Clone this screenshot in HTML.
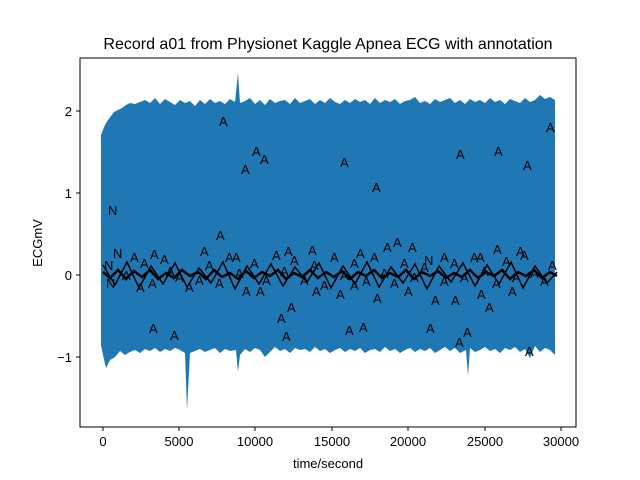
<!DOCTYPE html>
<html><head><style>
html,body{margin:0;padding:0;background:#fff;}
svg{display:block;font-family:"Liberation Sans",sans-serif;}
</style></head><body>
<svg width="640" height="480" xmlns="http://www.w3.org/2000/svg">
<rect width="640" height="480" fill="#fff"/>
<!-- blue band -->
<polygon fill="#1f77b4" points="101,135 103,130 105,125 108,120 111,116 114,112 118,110 122,108 126,105 130,103 135,104 140,102 145,100 150,103 155,98 160,104 165,99 170,102 175,105 180,100 185,103 190,101 195,106 200,100 205,104 210,99 215,103 220,101 225,104 230,99 235,102 238,73 240,103 245,101 250,98 255,104 260,100 265,105 270,99 275,103 280,101 285,100 290,104 295,98 300,103 305,101 310,99 315,104 320,100 325,103 330,98 335,102 340,104 345,100 350,103 355,99 360,102 365,100 370,104 375,98 380,103 385,100 390,102 395,99 400,104 405,101 410,100 415,97 420,103 425,101 430,104 435,99 440,102 445,100 450,98 455,103 460,100 465,104 470,99 475,102 480,100 485,103 490,98 495,102 500,100 505,104 510,99 515,101 520,103 525,98 530,102 535,100 540,95 545,99 550,97 555,100 555,355 550,350 545,348 540,352 535,346 530,358 525,349 520,352 515,347 510,350 505,348 500,353 495,349 490,351 485,347 480,350 475,352 470,348 468,376 466,350 460,353 455,348 450,351 445,347 440,350 435,353 430,348 425,351 420,349 415,352 410,348 405,350 400,353 395,349 390,351 385,347 380,352 375,349 370,350 365,353 360,348 355,351 350,349 345,352 340,348 335,350 330,353 325,349 320,351 315,347 310,352 305,349 300,350 295,348 290,353 285,349 280,351 275,347 270,352 265,357 260,350 255,348 250,352 245,349 240,355 238,372 236,350 230,351 225,349 220,353 215,348 210,350 205,352 200,349 195,351 190,353 187,410 185,353 180,350 175,348 170,351 165,349 160,352 155,348 150,351 145,349 140,353 135,350 130,352 125,355 120,351 115,357 110,360 106,368 103,355 101,345"/>
<!-- black annotation baseline -->
<polyline fill="none" stroke="#000" stroke-width="2.5" points="103,272 110,278 118,270 126,279 134,271 142,277 150,270 158,279 166,273 174,278 182,270 190,276 198,272 206,279 214,270 222,277 230,273 238,279 246,271 254,278 262,272 270,276 278,270 286,279 294,273 302,277 310,270 318,278 326,272 334,277 342,271 350,279 358,272 366,276 374,270 382,278 390,273 398,277 406,270 414,279 422,272 430,276 438,271 446,278 454,273 462,277 470,270 478,278 486,272 494,276 502,270 510,279 518,272 526,276 534,270 542,278 550,272 557,276"/>
<polyline fill="none" stroke="#000" stroke-width="1.5" points="103,265 115,285 127,262 139,288 151,266 163,284 175,263 187,287 199,268 211,283 223,262 235,289 247,266 259,284 271,264 283,286 295,267 307,282 319,263 331,288 343,266 355,284 367,262 379,287 391,267 403,283 415,264 427,289 439,266 451,282 463,263 475,286 487,265 499,284 511,262 523,288 535,266 547,283 557,272"/>
<g font-size="13" fill="#000">
<text x="108" y="215">N</text><text x="104" y="270">N</text><text x="106" y="288">N</text><text x="113" y="258">N</text>
<text x="219" y="126">A</text><text x="252" y="156">A</text><text x="260" y="164">A</text><text x="241" y="174">A</text><text x="340" y="167">A</text><text x="372" y="192">A</text><text x="456" y="159">A</text><text x="494" y="156">A</text><text x="523" y="170">A</text><text x="546" y="132">A</text>
<text x="216" y="240">A</text><text x="149" y="333">A</text><text x="170" y="340">A</text><text x="277" y="323">A</text><text x="287" y="312">A</text><text x="282" y="341">A</text><text x="345" y="335">A</text><text x="359" y="332">A</text><text x="426" y="333">A</text><text x="455" y="347">A</text><text x="463" y="337">A</text><text x="525" y="356">A</text>
<text x="373" y="303">A</text><text x="431" y="305">A</text><text x="451" y="305">A</text><text x="477" y="299">A</text><text x="485" y="312">A</text><text x="336" y="299">A</text><text x="350" y="290">A</text><text x="408" y="252">A</text><text x="393" y="247">A</text><text x="383" y="252">A</text><text x="308" y="255">A</text><text x="493" y="254">A</text><text x="424" y="265">N</text>
<text x="130" y="262">A</text><text x="140" y="268">A</text><text x="150" y="259">A</text><text x="160" y="264">A</text><text x="175" y="282">A</text><text x="185" y="292">A</text><text x="195" y="285">A</text><text x="205" y="270">A</text><text x="215" y="288">A</text><text x="225" y="262">A</text><text x="235" y="278">A</text><text x="242" y="296">A</text><text x="250" y="268">A</text><text x="262" y="285">A</text><text x="272" y="260">A</text><text x="280" y="276">A</text><text x="290" y="265">A</text><text x="300" y="285">A</text><text x="310" y="270">A</text><text x="320" y="290">A</text><text x="330" y="262">A</text><text x="340" y="280">A</text><text x="350" y="268">A</text><text x="362" y="286">A</text><text x="370" y="262">A</text><text x="380" y="278">A</text><text x="390" y="288">A</text><text x="400" y="268">A</text><text x="410" y="282">A</text><text x="420" y="272">A</text><text x="440" y="286">A</text><text x="450" y="268">A</text><text x="460" y="282">A</text><text x="470" y="262">A</text><text x="480" y="276">A</text><text x="492" y="288">A</text><text x="502" y="266">A</text><text x="512" y="282">A</text><text x="520" y="260">A</text><text x="530" y="278">A</text><text x="540" y="286">A</text><text x="548" y="270">A</text>
<text x="122" y="280">A</text><text x="136" y="292">A</text><text x="166" y="276">A</text><text x="200" y="256">A</text><text x="232" y="262">A</text><text x="284" y="256">A</text><text x="356" y="258">A</text><text x="440" y="262">A</text><text x="476" y="262">A</text><text x="516" y="256">A</text><text x="148" y="288">A</text><text x="256" y="296">A</text><text x="312" y="296">A</text><text x="404" y="296">A</text><text x="508" y="296">A</text>
</g>
<!-- axes -->
<rect x="80" y="58" width="496" height="369" fill="none" stroke="#000" stroke-width="1"/>
<g stroke="#000" stroke-width="1">
<line x1="103" y1="427" x2="103" y2="431"/><line x1="179" y1="427" x2="179" y2="431"/><line x1="255" y1="427" x2="255" y2="431"/><line x1="332" y1="427" x2="332" y2="431"/><line x1="408" y1="427" x2="408" y2="431"/><line x1="485" y1="427" x2="485" y2="431"/><line x1="561" y1="427" x2="561" y2="431"/>
<line x1="76" y1="111" x2="80" y2="111"/><line x1="76" y1="193" x2="80" y2="193"/><line x1="76" y1="275" x2="80" y2="275"/><line x1="76" y1="357" x2="80" y2="357"/>
</g>
<g font-size="13" fill="#000" text-anchor="middle">
<text x="103" y="446">0</text><text x="179" y="446">5000</text><text x="255" y="446">10000</text><text x="332" y="446">15000</text><text x="408" y="446">20000</text><text x="485" y="446">25000</text><text x="561" y="446">30000</text>
<text x="328" y="468">time/second</text>
<text x="328" y="49" font-size="16">Record a01 from Physionet Kaggle Apnea ECG with annotation</text>
</g>
<g font-size="13" fill="#000" text-anchor="end">
<text x="72" y="116">2</text><text x="72" y="198">1</text><text x="72" y="280">0</text><text x="72" y="362">−1</text>
</g>
<text x="42" y="243" font-size="13" text-anchor="middle" transform="rotate(-90 42 243)">ECGmV</text>
</svg>
</body></html>
